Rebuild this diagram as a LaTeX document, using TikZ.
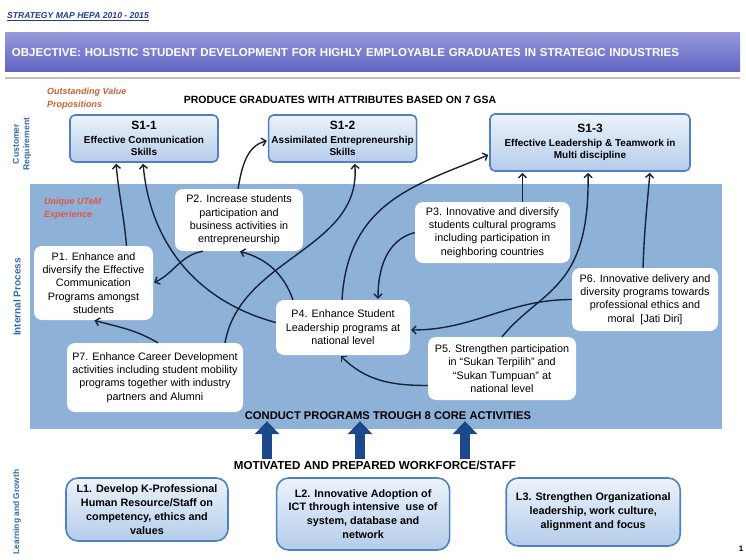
\documentclass[tikz,border=0pt]{standalone}
\usepackage{fontspec}
\setmainfont{Liberation Sans}
\usetikzlibrary{arrows.meta, positioning}

%% Colours of the strategy map
\definecolor{areablue}{RGB}{142,177,216}
\definecolor{linkblue}{RGB}{22,35,58}
\definecolor{boxborder}{RGB}{79,129,189}
\definecolor{boxtop}{RGB}{236,243,251}
\definecolor{boxbottom}{RGB}{180,204,234}
\definecolor{bannertop}{RGB}{150,152,218}
\definecolor{bannerbottom}{RGB}{96,100,194}
\definecolor{corearrowblue}{RGB}{28,72,140}
\definecolor{titleblue}{RGB}{38,58,150}
\definecolor{valueorange}{RGB}{196,98,52}
\definecolor{utemred}{RGB}{228,84,72}
\definecolor{perspectiveblue}{RGB}{52,104,178}

\tikzset{
  banner/.style = {top color=bannertop, bottom color=bannerbottom, text=white,
                   minimum height=39pt, text width=721pt, inner xsep=7pt,
                   align=left, font=\bfseries\fontsize{11.5}{13}\selectfont},
  separator/.style = {line width=2pt, draw=black!25!white},
  heading/.style = {font=\bfseries\fontsize{10.5}{12}\selectfont, inner sep=1pt},
  perspective/.style = {rotate=90, align=center, text=perspectiveblue,
                        font=\bfseries\fontsize{8.6}{10.5}\selectfont},
  tagline/.style = {align=left, anchor=west, inner sep=0pt,
                    font=\bfseries\itshape\fontsize{9}{13}\selectfont},
  area/.style = {fill=areablue, inner sep=0pt},
  requirement/.style = {draw=boxborder, line width=1.6pt, rounded corners=5pt,
                        top color=boxtop, bottom color=boxbottom, align=center,
                        inner sep=2pt, font=\bfseries\fontsize{10}{12.5}\selectfont},
  growth/.style = {requirement, rounded corners=12pt,
                   font=\bfseries\fontsize{10.8}{13.8}\selectfont},
  process/.style = {fill=white, rounded corners=8pt, align=center, inner sep=2pt,
                    font=\fontsize{10.8}{13.4}\selectfont},
  link/.style = {line width=1.4pt, linkblue,
                 arrows={-Straight Barb[length=4pt, width=8pt]}, shorten >=1pt},
  core arrow/.style = {line width=10pt, corearrowblue,
                       arrows={-Triangle[length=13pt, width=24pt]}},
}
\newcommand{\sid}[1]{{\fontsize{12}{14}\selectfont #1}}

\begin{document}
\begin{tikzpicture}[x=1pt, y=1pt]
  \useasboundingbox (0,0) rectangle (746,-559);

  %% Title and objective banner
  \node [anchor=west, text=titleblue, inner sep=0pt,
         font=\bfseries\itshape\fontsize{8.6}{10}\selectfont]
        (title) at (7,-17) {\underline{STRATEGY MAP HEPA 2010 - 2015}};
  \node [banner] (objective) at (372.5,-52.5) {OBJECTIVE: HOLISTIC STUDENT
    DEVELOPMENT FOR HIGHLY EMPLOYABLE GRADUATES IN STRATEGIC INDUSTRIES};
  \draw [separator] ([yshift=-6pt] objective.south west)
    -- ([yshift=-6pt] objective.south east);

  %% Perspectives down the left side
  \node [perspective] (customer) at (22,-144) {Customer\\Requirement};
  \node [perspective, font=\bfseries\fontsize{10}{12}\selectfont]
        (internal) at (17,-297) {Internal Process};
  \node [perspective, font=\bfseries\fontsize{8.4}{10}\selectfont]
        (learning) at (17,-512) {Learning and Growth};

  %% Internal process area
  \node [area, minimum width=692pt, minimum height=245pt]
        (processarea) at (376,-306.5) {};

  %% Customer requirements
  \node [tagline, text=valueorange] (value) at (47,-99)
        {Outstanding Value\\Propositions};
  \node [heading] (produce) at (340,-100)
        {PRODUCE GRADUATES WITH ATTRIBUTES BASED ON 7 GSA};
  \node [requirement, minimum width=148pt, minimum height=47pt]
        (S11) at (144,-138.5) {\sid{S1-1}\\[1pt]Effective Communication\\Skills};
  \node [requirement, minimum width=148pt, minimum height=47pt, right=49pt of S11]
        (S12) {\sid{S1-2}\\[1pt]Assimilated Entrepreneurship\\Skills};
  \node [requirement, minimum width=200pt, minimum height=57pt]
        (S13) at (590,-142.5)
        {\sid{S1-3}\\[1pt]Effective Leadership \& Teamwork in\\Multi discipline};

  %% Internal processes
  \node [tagline, text=utemred] (unique) at (44,-209) {Unique UTeM\\Experience};
  \node [process, minimum width=119pt, minimum height=74pt] (P1) at (93.5,-283)
        {P1. Enhance and\\diversify the Effective\\Communication\\Programs amongst\\students};
  \node [process, minimum width=128pt, minimum height=62pt] (P2) at (239,-220)
        {P2. Increase students\\participation and\\business activities in\\entrepreneurship};
  \node [process, minimum width=155pt, minimum height=61pt] (P3) at (492.5,-232.5)
        {P3. Innovative and diversify\\students cultural programs\\including participation in\\neighboring countries};
  \node [process, minimum width=134pt, minimum height=55pt] (P4) at (343,-327.5)
        {P4. Enhance Student\\Leadership programs at\\national level};
  \node [process, minimum width=148pt, minimum height=63pt] (P5) at (502,-368.5)
        {P5. Strengthen participation\\in ``Sukan Terpilih'' and\\``Sukan Tumpuan'' at\\national level};
  \node [process, minimum width=146pt, minimum height=63pt] (P6) at (645,-299.5)
        {P6. Innovative delivery and\\diversity programs towards\\professional ethics and\\moral~ [Jati Diri]};
  \node [process, minimum width=176pt, minimum height=69pt] (P7) at (155,-377.5)
        {P7. Enhance Career Development\\activities including student mobility\\programs together with industry\\partners and Alumni};

  %% Links up to the customer requirements
  \draw [link] ([xshift=33pt] P1.north) to [out=95, in=-85] ([xshift=-28pt] S11.south);
  \draw [link] ([yshift=5pt] P4.west) to [out=165, in=-85] ([xshift=-1pt] S11.south);
  \draw [link] ([xshift=-1pt] P2.north) to [out=80, in=195] ([yshift=-2pt] S12.west);
  \draw [link] ([xshift=70pt] P7.north) to [out=80, in=-85] ([xshift=12pt] S12.south);
  \draw [link] ([xshift=-1pt] P4.north)
    .. controls +(6,100) and +(-70,-30) .. ([yshift=-12pt] S13.west);
  \coordinate (p3top) at ([xshift=30pt] P3.north);
  \draw [link] (p3top) -- (p3top |- S13.south);
  \draw [link] (P5.north)
    .. controls +(38,47) and +(2,-119) .. ([xshift=-2pt] S13.south);
  \draw [link] ([xshift=-2pt] P6.north) to [out=88, in=-95] ([xshift=60pt] S13.south);

  %% Links between the processes
  \draw [link] ([xshift=-36pt] P2.south) to [out=190, in=25] (P1.east);
  \draw [link] ([xshift=-50pt] P4.north) to [out=110, in=-15] (P2.south);
  \draw [link] (P3.west) to [out=195, in=90] ([xshift=35pt] P4.north);
  \draw [link] (P6.west) to [out=180, in=0] ([yshift=-2.5pt] P4.east);
  \draw [link] ([yshift=-17pt] P5.west) to [out=180, in=-45] ([xshift=-3pt] P4.south);
  \draw [link] ([xshift=3pt] P7.north) to [out=150, in=-15] (P1.south);

  %% Learning and growth
  \node [heading, font=\bfseries\fontsize{11.2}{13}\selectfont]
        (conduct) at (388,-416) {CONDUCT PROGRAMS TROUGH 8 CORE ACTIVITIES};
  \node [heading, font=\bfseries\fontsize{11.6}{13}\selectfont]
        (motivated) at (375,-465) {MOTIVATED AND PREPARED WORKFORCE/STAFF};
  \foreach \x in {267,360,465}{%
    \draw [core arrow] (motivated.north -| \x,0) -- (conduct.south -| \x,0);
  }
  \node [growth, minimum width=162pt, minimum height=63pt] (L1) at (147,-509.5)
        {L1. Develop K-Professional\\Human Resource/Staff on\\competency, ethics and\\values};
  \node [growth, minimum width=173pt, minimum height=72pt,
         right=47pt of L1.north east, anchor=north west] (L2)
        {L2. Innovative Adoption of\\ICT through intensive~ use of\\system, database and\\network};
  \node [growth, minimum width=174pt, minimum height=68pt,
         right=55pt of L2.north east, anchor=north west] (L3)
        {L3. Strengthen Organizational\\leadership, work culture,\\alignment and focus};

  \node [inner sep=0pt, font=\bfseries\fontsize{8}{9}\selectfont] (pagenum) at (741,-549) {1};
\end{tikzpicture}
\end{document}
